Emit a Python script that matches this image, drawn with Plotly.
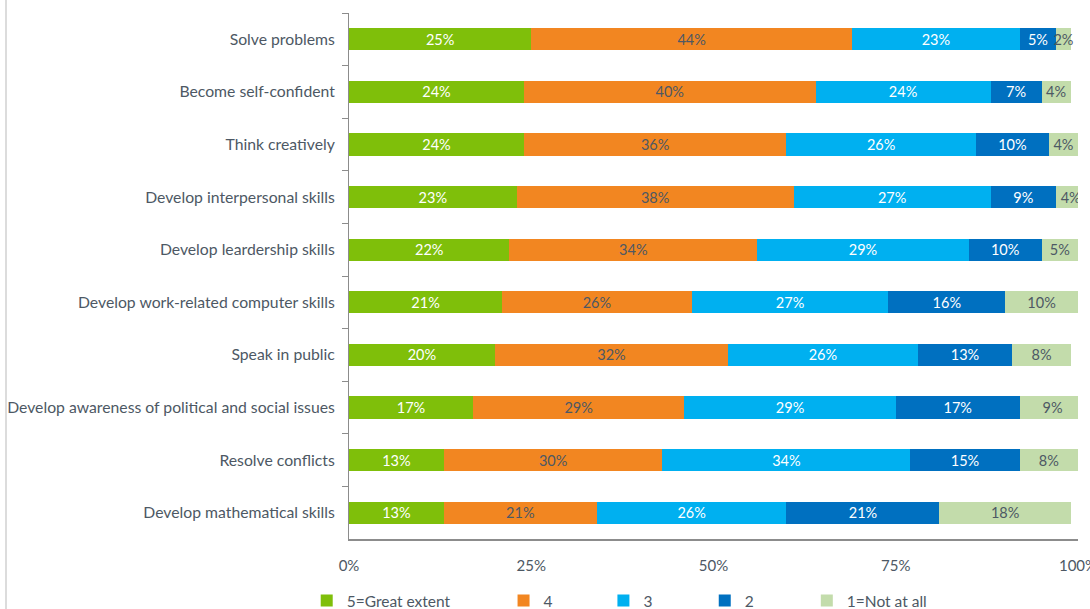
import plotly.graph_objects as go

categories = [
    "Solve problems",
    "Become self-confident",
    "Think creatively",
    "Develop interpersonal skills",
    "Develop leardership skills",
    "Develop work-related computer skills",
    "Speak in public",
    "Develop awareness of political and social issues",
    "Resolve conflicts",
    "Develop mathematical skills",
]

great_extent = [25, 24, 24, 23, 22, 21, 20, 17, 13, 13]
level_4 = [44, 40, 36, 38, 34, 26, 32, 29, 30, 21]
level_3 = [23, 24, 26, 27, 29, 27, 26, 29, 34, 26]
level_2 = [5, 7, 10, 9, 10, 16, 13, 17, 15, 21]
not_at_all = [2, 4, 4, 4, 5, 10, 8, 9, 8, 18]

x_ticks = [0, 25, 50, 75, 100]
x_tick_labels = ["0%", "25%", "50%", "75%", "100%"]

FONT = "Lato"
DARK = "#4d5864"
AXIS = "#8c8c8c"

series = [
    ("5=Great extent", great_extent, "#7fbf0a", "white"),
    ("4", level_4, "#f28621", DARK),
    ("3", level_3, "#00b0f0", "white"),
    ("2", level_2, "#0070c0", "white"),
    ("1=Not at all", not_at_all, "#c3dcab", DARK),
]

# each legend entry gets its own legend box so entries can be spaced freely
legend_x = [-0.058, 0.212, 0.349, 0.488, 0.628]
legend_ids = ["legend", "legend2", "legend3", "legend4", "legend5"]

fig = go.Figure()
for (name, vals, color, tcolor), lid in zip(series, legend_ids):
    fig.add_trace(go.Bar(
        y=categories,
        x=vals,
        name=name,
        orientation="h",
        legend=lid,
        marker=dict(color=color, line=dict(width=0)),
        text=[f"{v}%" for v in vals],
        textposition="inside",
        insidetextanchor="middle",
        textangle=0,
        textfont=dict(family=FONT, size=14.5, color=tcolor),
        constraintext="none",
        hoverinfo="skip",
    ))

legend_common = dict(
    orientation="h",
    xanchor="left",
    yref="container",
    y=0.041,
    yanchor="top",
    font=dict(family=FONT, size=15.5, color=DARK),
    bgcolor="rgba(0,0,0,0)",
    itemwidth=30,
)
layout_legends = {}
for lid, lx in zip(legend_ids, legend_x):
    layout_legends[lid] = dict(legend_common, x=lx)

fig.update_layout(
    barmode="stack",
    bargap=0.58,
    width=1090,
    height=609,
    margin=dict(l=349, r=12, t=13, b=70, autoexpand=False),
    plot_bgcolor="white",
    paper_bgcolor="white",
    font=dict(family=FONT, size=15.5, color=DARK),
    uniformtext=dict(minsize=14.5, mode="show"),
    showlegend=True,
    xaxis=dict(
        range=[0, 100],
        tickvals=x_ticks,
        ticktext=x_tick_labels,
        showgrid=False,
        zeroline=False,
        showline=True,
        linecolor=AXIS,
        linewidth=2,
        ticks="",
        ticklabelstandoff=12,
        ticklabeloverflow="allow",
        tickfont=dict(family=FONT, size=15, color=DARK),
        fixedrange=True,
    ),
    yaxis=dict(
        categoryorder="array",
        categoryarray=categories,
        autorange="reversed",
        showgrid=False,
        zeroline=False,
        showline=True,
        linecolor=AXIS,
        linewidth=1,
        ticks="outside",
        tickson="boundaries",
        ticklen=6,
        tickcolor=AXIS,
        ticklabelstandoff=10,
        tickfont=dict(family=FONT, size=15.75, color=DARK),
    ),
    shapes=[
        dict(
            type="line", xref="paper", yref="paper",
            x0=-0.4705, x1=-0.4705, y0=-0.14, y1=1.03,
            line=dict(color="#dcdcdc", width=2),
        )
    ],
    **layout_legends,
)

fig.write_html("out.html")
